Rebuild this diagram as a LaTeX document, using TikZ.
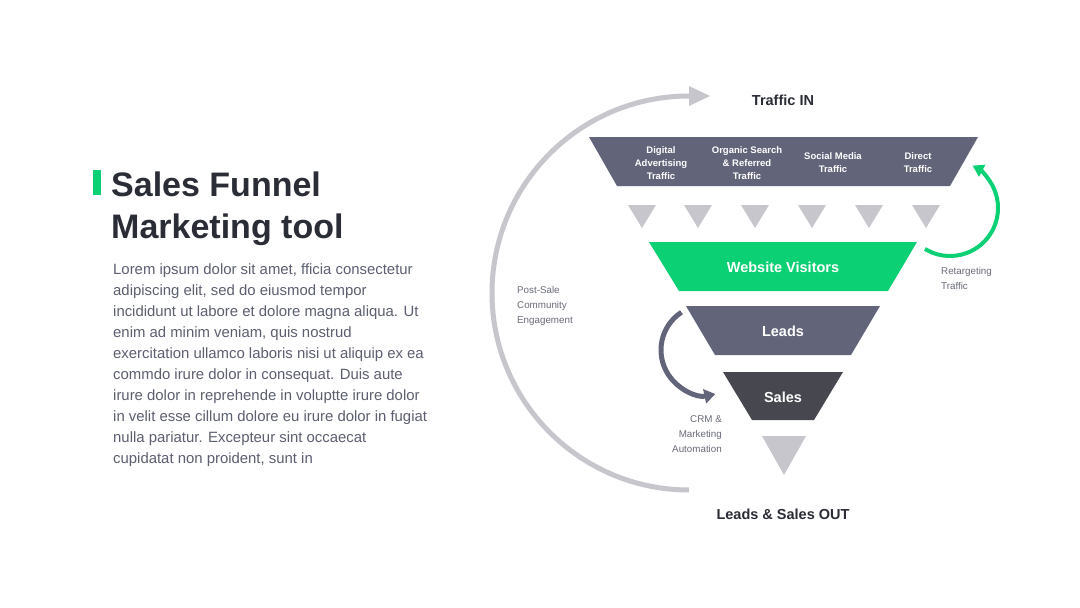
\documentclass[tikz,border=0pt]{standalone}
\usepackage{fontspec}
\setmainfont{Liberation Sans}
\usetikzlibrary{arrows.meta}
\definecolor{slate}{HTML}{62657A}
\definecolor{darkslate}{HTML}{46474F}
\definecolor{fgreen}{HTML}{0BD074}
\definecolor{lgray}{HTML}{C6C6CC}
\definecolor{titlec}{HTML}{2B2D36}
\definecolor{bodyc}{HTML}{5C5F70}
\definecolor{labc}{HTML}{6A6C78}
\begin{document}
\begin{tikzpicture}[x=1pt,y=-1pt,
  wtxt/.style={text=white,font=\bfseries\fontsize{9.5}{13}\selectfont,align=center,inner sep=0pt},
  bigtxt/.style={text=white,font=\bfseries\fontsize{14.5}{16}\selectfont,inner sep=0pt},
  headtxt/.style={text=titlec,font=\bfseries\fontsize{14.5}{16}\selectfont,inner sep=0pt},
  smalllab/.style={text=labc,font=\fontsize{9.8}{15}\selectfont,inner sep=0pt},
  titletxt/.style={anchor=base west,text=titlec,font=\bfseries\fontsize{34}{42}\selectfont,inner sep=0pt},
  tri/.style={fill=lgray}]
\useasboundingbox[fill=white] (0,0) rectangle (1080,608);
% title
\fill[fgreen] (93,170) rectangle (101,195);
\node[titletxt] (title1) at (111,196) {Sales Funnel};
\node[titletxt] (title2) at (111,238) {Marketing tool};
\node[anchor=north west,text=bodyc,font=\fontsize{14.9}{21}\selectfont,inner sep=0pt,align=left] (body) at (113,263.5) {Lorem ipsum dolor sit amet, fficia consectetur\\adipiscing elit, sed do eiusmod tempor\\incididunt ut labore et dolore magna aliqua. Ut\\enim ad minim veniam, quis nostrud\\exercitation ullamco laboris nisi ut aliquip ex ea\\commdo irure dolor in consequat. Duis aute\\irure dolor in reprehende in voluptte irure dolor\\in velit esse cillum dolore eu irure dolor in fugiat\\nulla pariatur. Excepteur sint occaecat\\cupidatat non proident, sunt in};
% big gray arc
\draw[lgray,line width=5pt] (689,490) arc[start angle=90,end angle=270,radius=197];
\fill[lgray] (689,86) -- (710,96) -- (689,106) -- cycle;
% funnel
\fill[slate] (589,137) -- (978,137) -- (950,186) -- (617,186) -- cycle;
\foreach \x in {642,698,755,812,869,926} \fill[tri] (\x-14,205) -- (\x+14,205) -- (\x,228) -- cycle;
\fill[fgreen] (649,242) -- (917,242) -- (888,291) -- (679,291) -- cycle;
\fill[slate] (686,306) -- (880,306) -- (851,355) -- (715,355) -- cycle;
\fill[darkslate] (723,372) -- (843,372) -- (814,420) -- (752,420) -- cycle;
\fill[tri] (762,436) -- (806,436) -- (784,475) -- cycle;
% texts
\node[headtxt] (tin) at (783,100) {Traffic IN};
\node[headtxt] (tout) at (783,514) {Leads \& Sales OUT};
\node[wtxt] (dat) at (661,163) {Digital\\Advertising\\Traffic};
\node[wtxt] (osr) at (747,163) {Organic Search\\\& Referred\\Traffic};
\node[wtxt] (smt) at (833,163) {Social Media\\Traffic};
\node[wtxt] (dt) at (918,163) {Direct\\Traffic};
\node[bigtxt] (wv) at (783,267) {Website Visitors};
\node[bigtxt] (leads) at (783,331) {Leads};
\node[bigtxt] (sales) at (783,397) {Sales};
\node[smalllab,anchor=north west,align=left] (rt) at (941,267) {Retargeting\\Traffic};
\node[smalllab,anchor=north west,align=left] (ps) at (517,286) {Post-Sale\\Community\\Engagement};
\node[smalllab,anchor=north east,align=right] (crm) at (722,415) {CRM \&\\Marketing\\Automation};
% green arc
\draw[fgreen,line width=4pt,-{Triangle[length=11pt,width=13pt]}] (950,208) ++(121.5:48) arc[start angle=121.5,end angle=-62,radius=48];
% dark arc
\draw[slate,line width=5pt,-{Triangle[length=11pt,width=14pt]}] (706,350) ++(237:45) arc[start angle=237,end angle=78,radius=45];
\end{tikzpicture}
\end{document}
